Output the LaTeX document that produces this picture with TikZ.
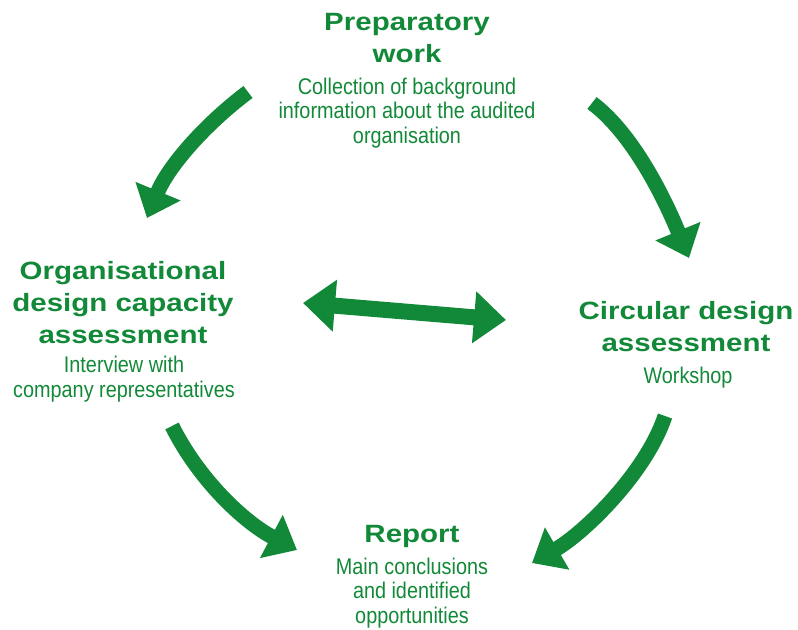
\documentclass[tikz,border=0pt]{standalone}
\usepackage{fontspec}
\usetikzlibrary{arrows.meta}
\newfontfamily\titlefont{Liberation Sans}[FakeStretch=1.18]
\newfontfamily\subfont{Liberation Sans}[FakeStretch=0.875]
\definecolor{cgreen}{RGB}{18,137,56}
\tikzset{
  titletext/.style={anchor=north, inner sep=0pt, align=center, text=cgreen,
    font=\titlefont\bfseries\fontsize{18.75pt}{24pt}\selectfont},
  subtext/.style={anchor=north, inner sep=0pt, align=center, text=cgreen,
    font=\subfont\fontsize{17pt}{18.4pt}\selectfont},
  curvedarrow/.style={draw=cgreen, line width=11.25pt,
    -{Triangle[length=21.75pt, width=35.25pt]}},
  dblarrow/.style={draw=cgreen, line width=12pt,
    {Triangle[length=24pt, width=37.5pt]}-{Triangle[length=24pt, width=37.5pt]}}
}
\begin{document}
\begin{tikzpicture}[x=0.75pt, y=-0.75pt]
\useasboundingbox (0,0) rectangle (798,629);
% text blocks
\node[titletext] (prepT) at (407,13) {Preparatory\\work};
\node[subtext] (prepS) at (407,77.5) {Collection of background\\information about the audited\\organisation};
\node[titletext] (orgT) at (123,261) {Organisational\\design capacity\\assessment};
\node[subtext] (orgS) at (124,356) {Interview with\\company representatives};
\node[titletext] (circT) at (686,301.5) {Circular design\\assessment};
\node[subtext] (circS) at (688,367) {Workshop};
\node[titletext] (repT) at (412,525) {Report};
\node[subtext] (repS) at (412,557.5) {Main conclusions\\and identified\\opportunities};
% arrow end points
\coordinate (a1s) at (248,92);  \coordinate (a1e) at (147,218);
\coordinate (a2s) at (592,103); \coordinate (a2e) at (689,258);
\coordinate (a3s) at (172,426); \coordinate (a3e) at (297,550);
\coordinate (a4s) at (665,416); \coordinate (a4e) at (532,563);
\coordinate (dbl1) at (303,303); \coordinate (dbl2) at (506,320);
% arrows
\draw[curvedarrow] (a1s) .. controls (204,125) and (168,167) .. (a1e);
\draw[curvedarrow] (a2s) .. controls (636,136) and (668,207) .. (a2e);
\draw[curvedarrow] (a3s) .. controls (199,480) and (244,522) .. (a3e);
\draw[curvedarrow] (a4s) .. controls (646,473) and (584,533) .. (a4e);
\draw[dblarrow] (dbl1) -- (dbl2);
\end{tikzpicture}
\end{document}
